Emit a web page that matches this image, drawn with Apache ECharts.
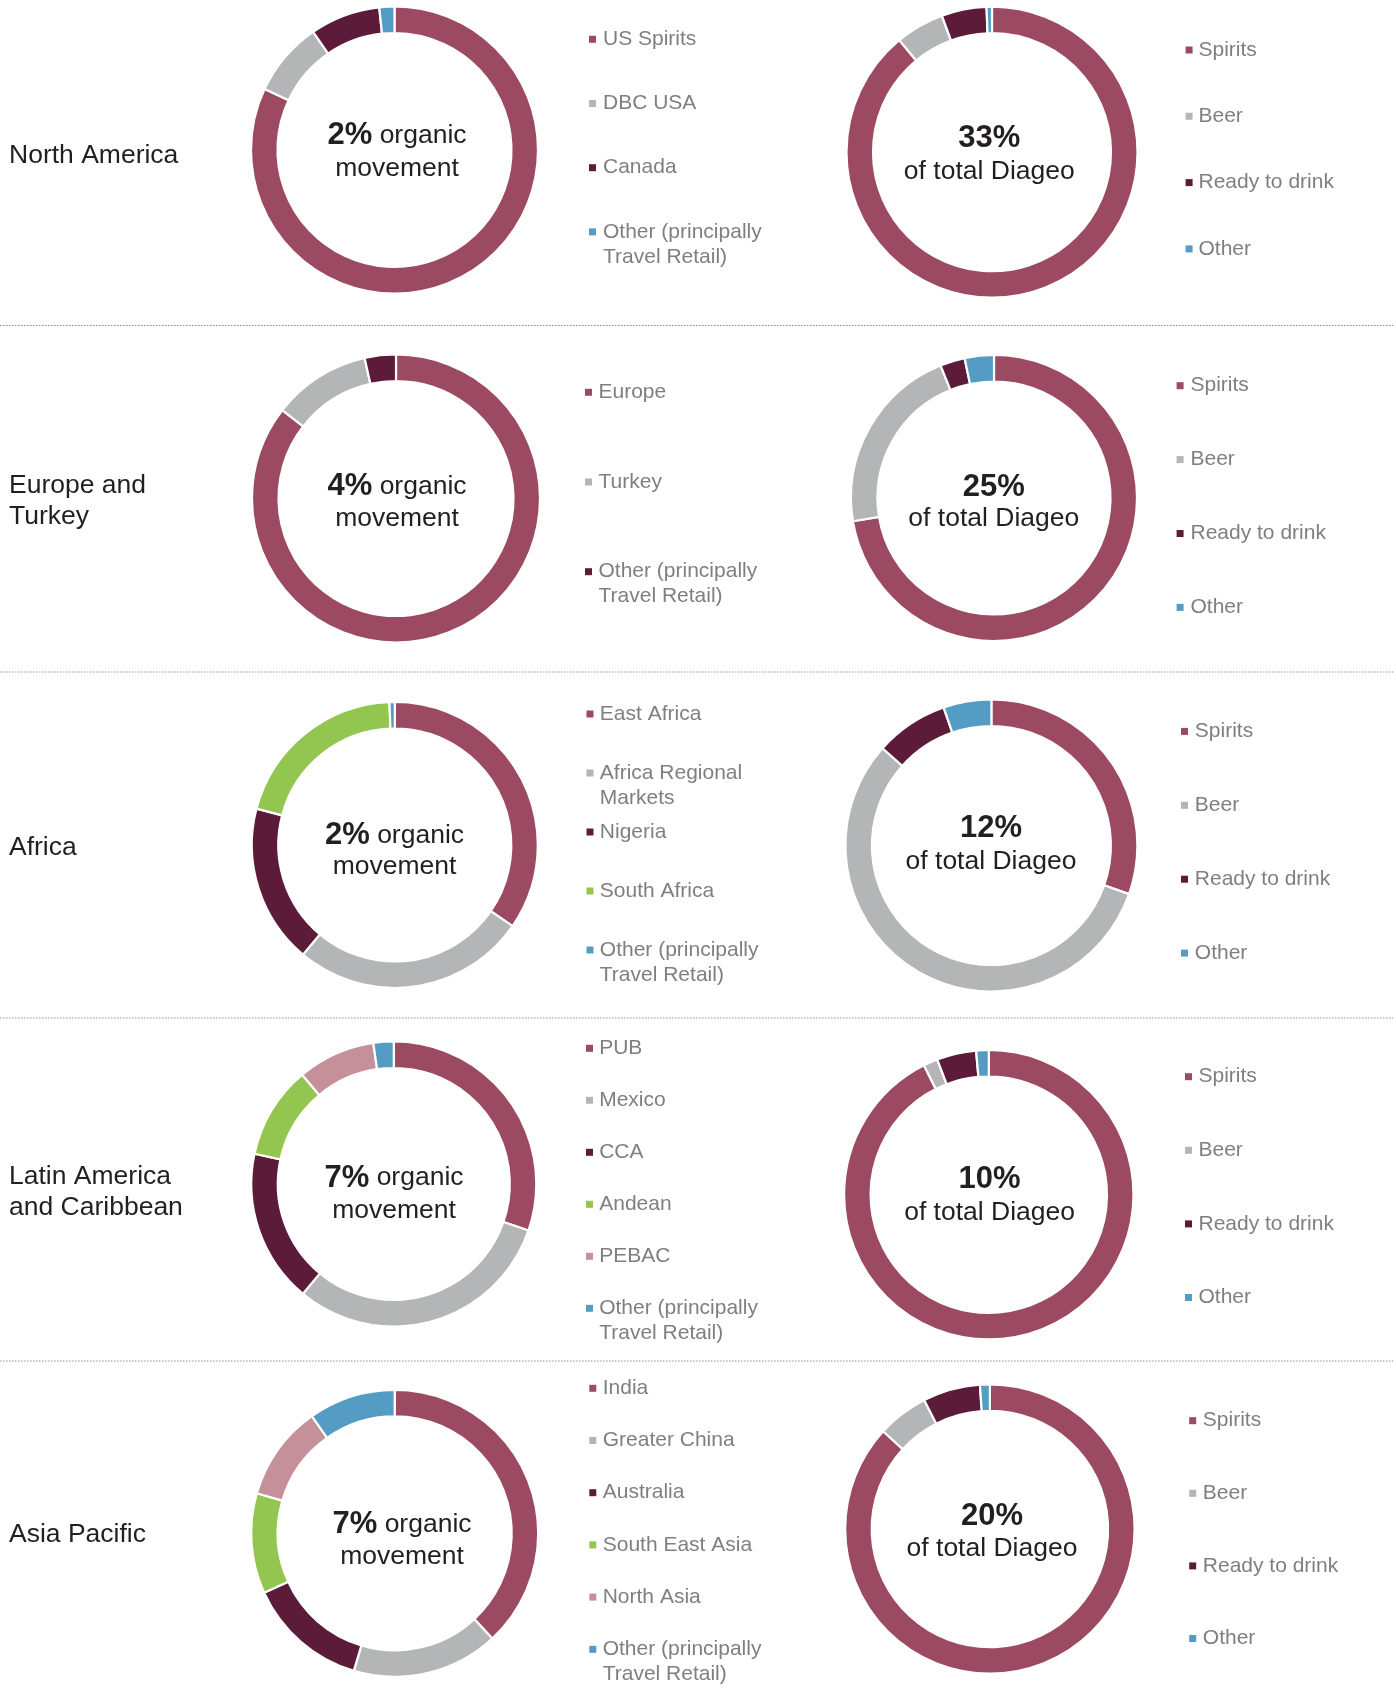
<!DOCTYPE html>
<html>
<head>
  <meta charset="utf-8">
  <title>Diageo regions</title>
  <script src="https://cdn.jsdelivr.net/npm/echarts@6/dist/echarts.min.js"></script>
  <style>
    html, body { margin: 0; padding: 0; background: #fff; }
    #chart { width: 1396px; height: 1702px; }
  </style>
</head>
<body>
  <div id="chart"></div>
  <script>
    // region headings + the figures written in the middle of the rings
    const regionNames = ['North America', 'Europe and\nTurkey', 'Africa', 'Latin America\nand Caribbean', 'Asia Pacific'];
    const organicMovement = ['2%', '4%', '2%', '7%', '7%'];
    const shareOfDiageo = ['33%', '25%', '12%', '10%', '20%'];

    // left rings: markets in each region (% share)
    const naMarkets = ['US Spirits', 'DBC USA', 'Canada', 'Other (principally\nTravel Retail)'];
    const naMarketShare = [82, 8.4, 7.9, 1.7];
    const etMarkets = ['Europe', 'Turkey', 'Other (principally\nTravel Retail)'];
    const etMarketShare = [85.5, 11, 3.5];
    const afMarkets = ['East Africa', 'Africa Regional\nMarkets', 'Nigeria', 'South Africa', 'Other (principally\nTravel Retail)'];
    const afMarketShare = [34.6, 26.5, 18, 20.3, 0.6];
    const lacMarkets = ['PUB', 'Mexico', 'CCA', 'Andean', 'PEBAC', 'Other (principally\nTravel Retail)'];
    const lacMarketShare = [30.3, 30.7, 17.4, 10.5, 8.8, 2.3];
    const apMarkets = ['India', 'Greater China', 'Australia', 'South East Asia', 'North Asia', 'Other (principally\nTravel Retail)'];
    const apMarketShare = [38.1, 16.5, 13.6, 11.3, 10.7, 9.8];

    // right rings: category split per region
    const categories = ['Spirits', 'Beer', 'Ready to drink', 'Other'];
    const naCategoryShare = [89, 5.4, 5, 0.6];
    const etCategoryShare = [72.4, 21.5, 2.8, 3.3];
    const afCategoryShare = [30.4, 56.2, 8.1, 5.3];
    const lacCategoryShare = [92.6, 1.6, 4.4, 1.4];
    const apCategoryShare = [86.8, 5.7, 6.4, 1.1];

    const MAROON = '#9b4a61', GREY = '#b4b5b7', PLUM = '#5b1b39';
    const BLUE = '#559cc5', GREEN = '#93c651', PINK = '#c6909b';
    const FONT = '"Liberation Sans", Arial, Helvetica, sans-serif';
    const INK = '#231f20';
    const LEGEND_INK = '#7f7f7f';
    const RING = 26.5;   // ring thickness
    const DY = 3;        // nudge for the text in the middle of the rings

    // layout of each ring, its centre text and its legend
    const rings = [
      { names: naMarkets, values: naMarketShare, colors: [MAROON, GREY, PLUM, BLUE],
        center: [394.5, 150], r: 143.5, big: organicMovement[0], left: true, tx: 397, ty: [132.7, 165.7],
        lg: { mx: 589, tx: 603, y: 39.3, step: 64.2 } },
      { names: etMarkets, values: etMarketShare, colors: [MAROON, GREY, PLUM],
        center: [396, 498.5], r: 144, big: organicMovement[1], left: true, tx: 397, ty: [483.3, 515.7],
        lg: { mx: 585, tx: 598.5, y: 392.3, step: 89.7 } },
      { names: afMarkets, values: afMarketShare, colors: [MAROON, GREY, PLUM, GREEN, BLUE],
        center: [394.8, 845], r: 143, big: organicMovement[2], left: true, tx: 394.5, ty: [832.7, 863.4],
        lg: { mx: 586.5, tx: 599.8, y: 714, step: 59 } },
      { names: lacMarkets, values: lacMarketShare, colors: [MAROON, GREY, PLUM, GREEN, PINK, BLUE],
        center: [393.8, 1184], r: 142.5, big: organicMovement[3], left: true, tx: 394, ty: [1175, 1207.4],
        lg: { mx: 586, tx: 599.2, y: 1048.3, step: 52 } },
      { names: apMarkets, values: apMarketShare, colors: [MAROON, GREY, PLUM, GREEN, PINK, BLUE],
        center: [394.7, 1533.3], r: 143.5, big: organicMovement[4], left: true, tx: 402, ty: [1521.7, 1553.4],
        lg: { mx: 589.3, tx: 602.7, y: 1388.3, step: 52.2 } },

      { names: categories, values: naCategoryShare, colors: [MAROON, GREY, PLUM, BLUE],
        center: [992, 152.2], r: 145.5, big: shareOfDiageo[0], left: false, tx: 989.3, ty: [135.9, 169],
        lg: { mx: 1185.6, tx: 1198.5, y: 50, step: 66.3 } },
      { names: categories, values: etCategoryShare, colors: [MAROON, GREY, PLUM, BLUE],
        center: [994, 498], r: 143, big: shareOfDiageo[1], left: false, tx: 993.8, ty: [484.2, 515.7],
        lg: { mx: 1176.6, tx: 1190.5, y: 385.7, step: 73.9 } },
      { names: categories, values: afCategoryShare, colors: [MAROON, GREY, PLUM, BLUE],
        center: [991.4, 845.5], r: 146, big: shareOfDiageo[2], left: false, tx: 991, ty: [825.9, 859],
        lg: { mx: 1181, tx: 1194.8, y: 731.4, step: 73.9 } },
      { names: categories, values: lacCategoryShare, colors: [MAROON, GREY, PLUM, BLUE],
        center: [988.8, 1194.7], r: 144.7, big: shareOfDiageo[3], left: false, tx: 989.6, ty: [1176.5, 1210],
        lg: { mx: 1185, tx: 1198.5, y: 1076.7, step: 73.6 } },
      { names: categories, values: apCategoryShare, colors: [MAROON, GREY, PLUM, BLUE],
        center: [989.9, 1529], r: 144.7, big: shareOfDiageo[4], left: false, tx: 992, ty: [1513.2, 1545.7],
        lg: { mx: 1189.2, tx: 1202.8, y: 1420.7, step: 72.6 } }
    ];

    const regionLabelY = [155.5, 501.5, 847.5, 1192, 1535];
    const separatorY = [325.5, 672, 1018, 1361];

    const series = rings.map((g, k) => ({
      type: 'pie',
      name: 'ring' + k,
      silent: true,
      center: g.center,
      radius: [g.r - RING, g.r],
      startAngle: 90,
      clockwise: true,
      avoidLabelOverlap: false,
      label: { show: false },
      labelLine: { show: false },
      emphasis: { disabled: true },
      itemStyle: { borderColor: '#fff', borderWidth: 2.2 },
      data: g.values.map((v, i) => ({ name: g.names[i], value: v, itemStyle: { color: g.colors[i] } }))
    }));

    const elements = [];

    regionNames.forEach((name, i) => {
      elements.push({
        type: 'text', x: 9, y: regionLabelY[i], silent: true,
        style: { text: name, fontFamily: FONT, fontSize: 26.5, fill: INK, lineHeight: 31, verticalAlign: 'middle' }
      });
    });

    separatorY.forEach(y => {
      elements.push({
        type: 'line', silent: true,
        shape: { x1: 0, y1: y, x2: 1393, y2: y },
        style: { stroke: '#8f8f8f', lineWidth: 1, lineDash: [1.5, 1.5] }
      });
    });

    rings.forEach(g => {
      if (g.left) {
        elements.push({
          type: 'text', x: g.tx, y: g.ty[0] + DY, silent: true,
          style: {
            text: '{b|' + g.big + '}{r| organic}',
            align: 'center', verticalAlign: 'middle',
            rich: {
              b: { fontFamily: FONT, fontSize: 31, fontWeight: 'bold', fill: INK, lineHeight: 34 },
              r: { fontFamily: FONT, fontSize: 26.5, fill: INK, lineHeight: 34 }
            }
          }
        });
        elements.push({
          type: 'text', x: g.tx, y: g.ty[1] + DY, silent: true,
          style: { text: 'movement', fontFamily: FONT, fontSize: 26.5, fill: INK, align: 'center', verticalAlign: 'middle' }
        });
      } else {
        elements.push({
          type: 'text', x: g.tx, y: g.ty[0] + DY, silent: true,
          style: { text: g.big, fontFamily: FONT, fontSize: 31, fontWeight: 'bold', fill: INK, align: 'center', verticalAlign: 'middle' }
        });
        elements.push({
          type: 'text', x: g.tx, y: g.ty[1] + DY, silent: true,
          style: { text: 'of total Diageo', fontFamily: FONT, fontSize: 26.5, fill: INK, align: 'center', verticalAlign: 'middle' }
        });
      }

      // legend: small square + grey label, one row per slice
      g.names.forEach((name, i) => {
        const y = g.lg.y + i * g.lg.step;
        elements.push({
          type: 'rect', silent: true,
          shape: { x: g.lg.mx, y: y - 3.5, width: 7, height: 7 },
          style: { fill: g.colors[i] }
        });
        elements.push({
          type: 'text', x: g.lg.tx, y: y - 12.5, silent: true,
          style: { text: name, fontFamily: FONT, fontSize: 21, fill: LEGEND_INK, lineHeight: 25, verticalAlign: 'top' }
        });
      });
    });

    const chart = echarts.init(document.getElementById('chart'));
    chart.setOption({
      animation: false,
      backgroundColor: '#fff',
      tooltip: { show: false },
      graphic: { elements: elements },
      series: series
    });
  </script>
</body>
</html>
